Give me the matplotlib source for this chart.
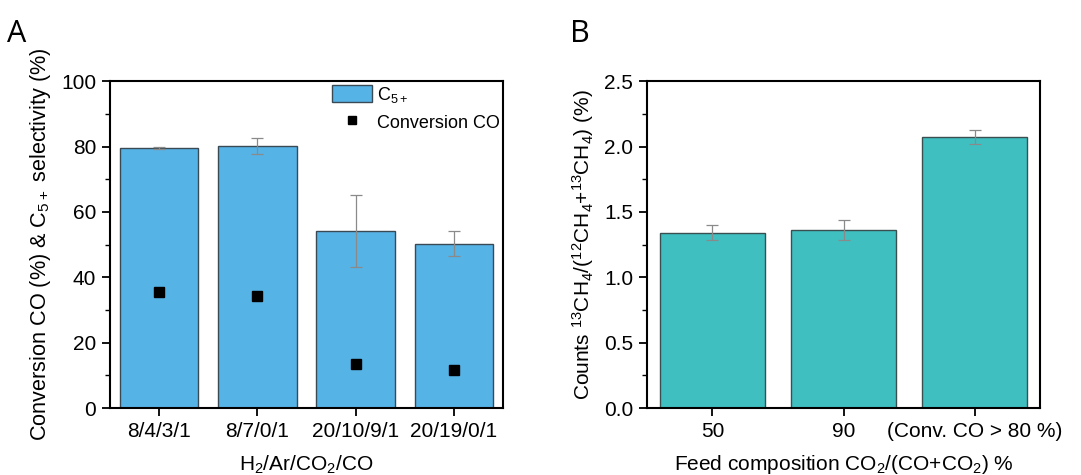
import matplotlib
matplotlib.use("Agg")
import matplotlib.pyplot as plt
from matplotlib.ticker import MultipleLocator, FormatStrFormatter

plt.rcParams['font.family'] = ['Liberation Sans', 'DejaVu Sans']
plt.rcParams['mathtext.default'] = 'regular'

# panel A data
feed_a = ["8/4/3/1", "8/7/0/1", "20/10/9/1", "20/19/0/1"]
c5_sel = [79.7, 80.2, 54.2, 50.3]
c5_err = [0.3, 2.4, 10.9, 3.8]
conv_co = [35.5, 34.4, 13.4, 11.6]

# panel B data
feed_b = ["50", "90", "(Conv. CO > 80 %)"]
ratio_13c = [1.34, 1.365, 2.075]
ratio_err = [0.057, 0.077, 0.055]

fig = plt.figure(figsize=(10.81, 4.75), dpi=100)
ax1 = fig.add_axes([0.1018, 0.141, 0.3636, 0.688])
ax2 = fig.add_axes([0.5985, 0.141, 0.3636, 0.688])

xa = range(len(feed_a))
bars = ax1.bar(xa, c5_sel, width=0.8, color="#56b3e6", edgecolor="#3a4a55", linewidth=1.0,
               label="C$_{5+}$", zorder=2)
ax1.errorbar(xa, c5_sel, yerr=c5_err, fmt="none", ecolor="#8a8a8a", elinewidth=0.9,
             capsize=4, capthick=0.9, zorder=3)
pts, = ax1.plot(xa, conv_co, "s", color="black", markersize=7, linestyle="none",
                label="Conversion CO", zorder=4)
ax1.set_xlim(-0.5, 3.5)
ax1.set_ylim(0, 100)
ax1.set_xticks(list(xa))
ax1.set_xticklabels(feed_a)
ax1.yaxis.set_major_locator(MultipleLocator(20))
ax1.yaxis.set_minor_locator(MultipleLocator(10))
ax1.set_xlabel("H$_2$/Ar/CO$_2$/CO", fontsize=15, labelpad=9)
ax1.set_ylabel("Conversion CO (%) & C$_{5+}$ selectivity (%)", fontsize=15.6, labelpad=6)
ax1.legend([bars, pts], ["C$_{5+}$", "Conversion CO"], loc="upper right", frameon=False,
           fontsize=13, handlelength=2.2, handleheight=1.1, markerscale=0.85,
           borderaxespad=0.0, handletextpad=0.25, labelspacing=0.45, borderpad=0.2)
ax1.text(-0.262, 1.119, "A", transform=ax1.transAxes, fontsize=22,
         family="Open Sans", va="baseline", ha="left")

xb = range(len(feed_b))
ax2.bar(xb, ratio_13c, width=0.8, color="#40bfc1", edgecolor="#3a5050", linewidth=1.0,
        zorder=2)
ax2.errorbar(xb, ratio_13c, yerr=ratio_err, fmt="none", ecolor="#8a8a8a", elinewidth=0.9,
             capsize=4, capthick=0.9, zorder=3)
ax2.set_xlim(-0.5, 2.5)
ax2.set_ylim(0, 2.5)
ax2.set_xticks(list(xb))
ax2.set_xticklabels(feed_b)
ax2.yaxis.set_major_locator(MultipleLocator(0.5))
ax2.yaxis.set_minor_locator(MultipleLocator(0.25))
ax2.yaxis.set_major_formatter(FormatStrFormatter("%.1f"))
ax2.set_xlabel("Feed composition CO$_2$/(CO+CO$_2$) %", fontsize=15, labelpad=9)
ax2.set_ylabel("Counts $^{13}$CH$_4$/($^{12}$CH$_4$+$^{13}$CH$_4$) (%)", fontsize=15,
               labelpad=6)
ax2.text(-0.196, 1.119, "B", transform=ax2.transAxes, fontsize=22,
         family="Open Sans", va="baseline", ha="left")

for ax in (ax1, ax2):
    for sp in ax.spines.values():
        sp.set_linewidth(1.5)
        sp.set_color("black")
    ax.tick_params(axis="both", which="major", direction="out", length=6, width=1.3,
                   labelsize=15, pad=4)
    ax.tick_params(axis="y", which="minor", direction="out", length=3.5, width=1.0)
    ax.tick_params(axis="x", which="minor", bottom=False)

fig.savefig("out.png", dpi=100)
